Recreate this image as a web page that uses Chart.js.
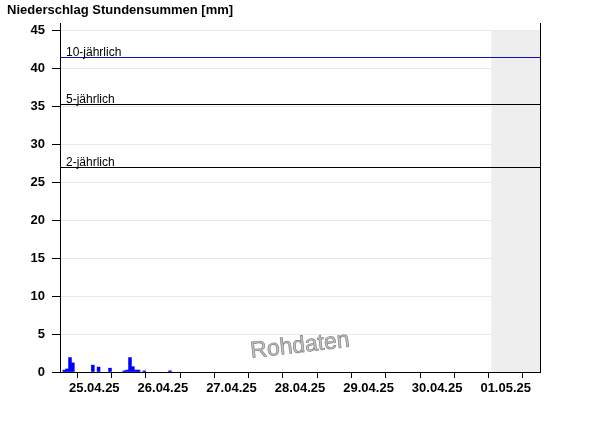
<!DOCTYPE html>
<html>
<head>
<meta charset="utf-8">
<script src="https://cdn.jsdelivr.net/npm/chart.js@4/dist/chart.umd.min.js"></script>
<style>
	body { margin: 0; background: #fff; }
</style>
</head>
<body>
<canvas id="myCanvas" width="600" height="426"></canvas>
<script>
// hours since 25.04.25 00:00
let rainHours = [1, 2, 3, 4, 11, 13, 17, 22, 23, 24, 25, 26, 27, 29, 38];
let rainValues = [0.25, 0.4, 1.9, 1.2, 0.9, 0.65, 0.5, 0.15, 0.25, 1.9, 0.7, 0.25, 0.25, 0.15, 0.15];

let dayLabels = ["25.04.25", "26.04.25", "27.04.25", "28.04.25", "29.04.25", "30.04.25", "01.05.25"];

let thresholdNames = ["10-jährlich", "5-jährlich", "2-jährlich"];
let thresholdValues = [41.5, 35.3, 27.0];
let thresholdColors = ["#1010b0", "#000000", "#000000"];

// start of the not yet reached time (gray box), in hours
let futureStart = 151;

const font = "Liberation Sans, Arial, sans-serif";

const extras = {
	id: "extras",
	beforeDatasetsDraw(chart) {
		const c = chart.ctx;
		const x = chart.scales.x;
		const y = chart.scales.y;
		const area = chart.chartArea;
		c.save();
		c.fillStyle = "#eeeeee";
		const left = x.getPixelForValue(futureStart);
		const top = y.getPixelForValue(45);
		c.fillRect(left, top, area.right - left, area.bottom - top);
		c.restore();
	},
	afterDatasetsDraw(chart) {
		const c = chart.ctx;
		const y = chart.scales.y;
		const area = chart.chartArea;
		c.save();
		c.lineWidth = 1;
		c.font = "12px " + font;
		c.textBaseline = "alphabetic";
		for (let i = 0; i < thresholdValues.length; i++) {
			const py = Math.round(y.getPixelForValue(thresholdValues[i])) + 0.5;
			c.strokeStyle = thresholdColors[i];
			c.beginPath();
			c.moveTo(area.left, py);
			c.lineTo(area.right, py);
			c.stroke();
			c.fillStyle = "#000";
			c.fillText(thresholdNames[i], area.left + 6, py - 2);
		}
		// right border
		c.strokeStyle = "#000";
		c.beginPath();
		c.moveTo(Math.round(area.right) + 0.5, area.top);
		c.lineTo(Math.round(area.right) + 0.5, area.bottom);
		c.stroke();

		// title
		c.font = "bold 13px " + font;
		c.fillStyle = "#000";
		c.fillText("Niederschlag Stundensummen [mm]", 7, 14);

		// watermark
		c.translate(300, 346);
		c.rotate(-6.5 * Math.PI / 180);
		c.font = "23px " + font;
		c.textAlign = "center";
		c.textBaseline = "middle";
		c.fillStyle = "#c4c4c4";
		c.fillText("Rohdaten", 0, 0);
		c.strokeStyle = "#808080";
		c.lineWidth = 0.7;
		c.strokeText("Rohdaten", 0, 0);
		c.restore();
	},
};

const ctx = document.getElementById("myCanvas").getContext("2d");
const myChart = new Chart(ctx, {
	type: "bar",
	data: {
		datasets: [
			{
				label: "Niederschlag",
				data: rainHours.map((h, i) => ({ x: h + 0.5, y: rainValues[i] })),
				backgroundColor: "#0000ff",
				borderWidth: 0,
				barPercentage: 1,
				categoryPercentage: 1,
			},
		],
	},
	options: {
		responsive: false,
		animation: false,
		layout: {
			padding: { left: 0, right: 60, top: 23, bottom: 0 },
		},
		plugins: {
			legend: { display: false },
			tooltip: { enabled: false },
		},
		scales: {
			x: {
				type: "linear",
				min: 0,
				max: 168,
				offset: false,
				afterFit: function (scale) {
					scale.height = 54;
				},
				grid: {
					drawOnChartArea: false,
					drawTicks: true,
					tickLength: 6,
					tickColor: "#000",
				},
				border: { display: true, color: "#000", width: 1 },
				ticks: {
					stepSize: 12,
					autoSkip: false,
					maxRotation: 0,
					padding: 3,
					color: "#000",
					font: { family: font, size: 13, weight: "bold" },
					callback: function (value) {
						if (value % 24 === 12) {
							return dayLabels[Math.floor(value / 24)];
						}
						return "";
					},
				},
			},
			y: {
				min: 0,
				max: 46,
				afterFit: function (scale) {
					scale.width = 60;
				},
				afterBuildTicks: function (scale) {
					scale.ticks = scale.ticks.filter((t) => t.value % 5 === 0);
				},
				grid: {
					color: "#e8e8e8",
					tickColor: "#000",
					tickLength: 8,
				},
				border: { display: true, color: "#000", width: 1 },
				ticks: {
					stepSize: 5,
					includeBounds: false,
					padding: 7,
					color: "#000",
					font: { family: font, size: 13, weight: "bold" },
				},
			},
		},
	},
	plugins: [extras],
});
</script>
</body>
</html>
